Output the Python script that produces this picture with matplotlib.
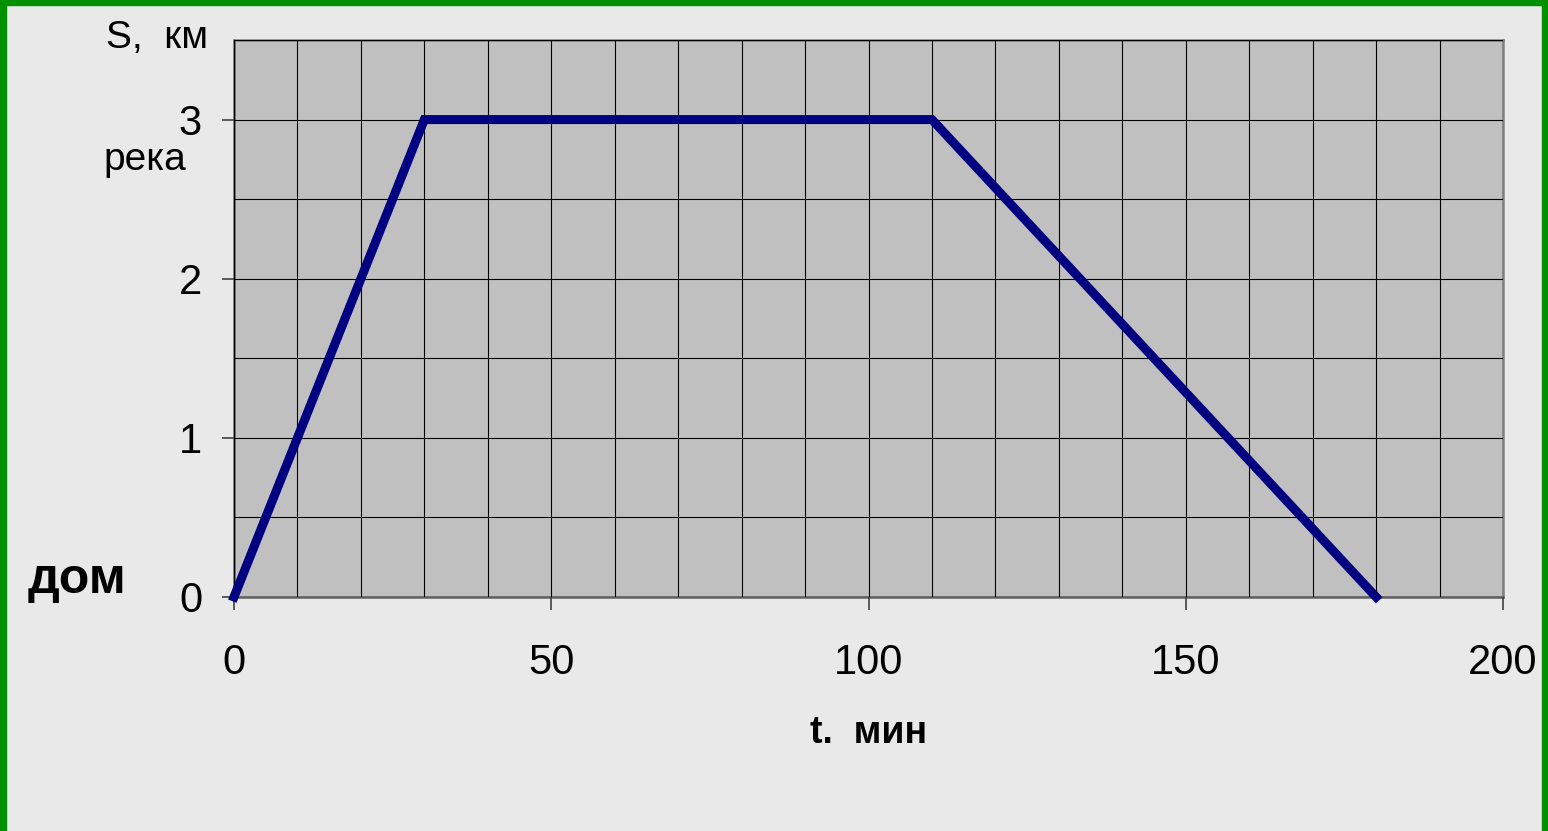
import numpy as np
import matplotlib.pyplot as plt
from matplotlib.patches import Rectangle
from matplotlib.ticker import MultipleLocator

# Данные: время (мин) и расстояние (км)
t_min = [0, 30, 110, 180]
s_km = [0, 3, 3, 0]

x_ticks = [0, 50, 100, 150, 200]
y_ticks = [0, 1, 2, 3]

W, H = 1548, 831
plt.rcParams['font.family'] = ['Liberation Sans', 'DejaVu Sans']

fig = plt.figure(figsize=(W / 100, H / 100), dpi=100)
fig.patch.set_facecolor('#e9e9e9')

# Зелёная рамка
green = '#009000'
fig.patches.append(Rectangle((0, 0), 6 / W, 1, transform=fig.transFigure,
                             color=green, zorder=0))
fig.patches.append(Rectangle((0, 1 - 5 / H), 1, 5 / H, transform=fig.transFigure,
                             color=green, zorder=0))
fig.patches.append(Rectangle((1 - 6 / W, 0), 6 / W, 1, transform=fig.transFigure,
                             color=green, zorder=0))

ax = fig.add_axes([234 / W, 1 - 597 / H, (1503 - 234) / W, (597 - 40) / H])
ax.set_facecolor('#c0c0c0')

ax.plot(t_min, s_km, color='#000080', linewidth=6.5, solid_joinstyle='miter',
        zorder=5, clip_on=False)

ax.set_xlim(0, 200)
ax.set_ylim(0, 3.5)
ax.set_xticks(x_ticks)
ax.set_yticks(y_ticks)
ax.xaxis.set_minor_locator(MultipleLocator(10))
ax.yaxis.set_minor_locator(MultipleLocator(0.5))
ax.grid(which='both', color='black', linewidth=0.8)
ax.set_axisbelow(False)
for ln in ax.get_xgridlines() + ax.get_ygridlines():
    ln.set_zorder(2)

ax.tick_params(which='minor', length=0)
ax.tick_params(which='major', direction='out', length=9, width=1.2,
               color='#404040', labelsize=30)
ax.tick_params(axis='x', pad=24)
ax.tick_params(axis='y', pad=14)

for sp in ax.spines.values():
    sp.set_color('#808080')
    sp.set_linewidth(1.8)
ax.spines['left'].set_color('#606060')
ax.spines['bottom'].set_color('#606060')

def px(x, y):
    return x / W, 1 - y / H

fig.text(*px(157, 38), 'S,  км', fontsize=28, ha='center', va='center')
fig.text(*px(145, 160), 'река', fontsize=28, ha='center', va='center')
fig.text(*px(77, 580), 'дом', fontsize=36, fontweight='bold',
         ha='center', va='center')
fig.text(*px(869, 733), 't.  мин', fontsize=27, fontweight='bold',
         ha='center', va='center')

plt.savefig('out.png', dpi=100, facecolor=fig.get_facecolor())
